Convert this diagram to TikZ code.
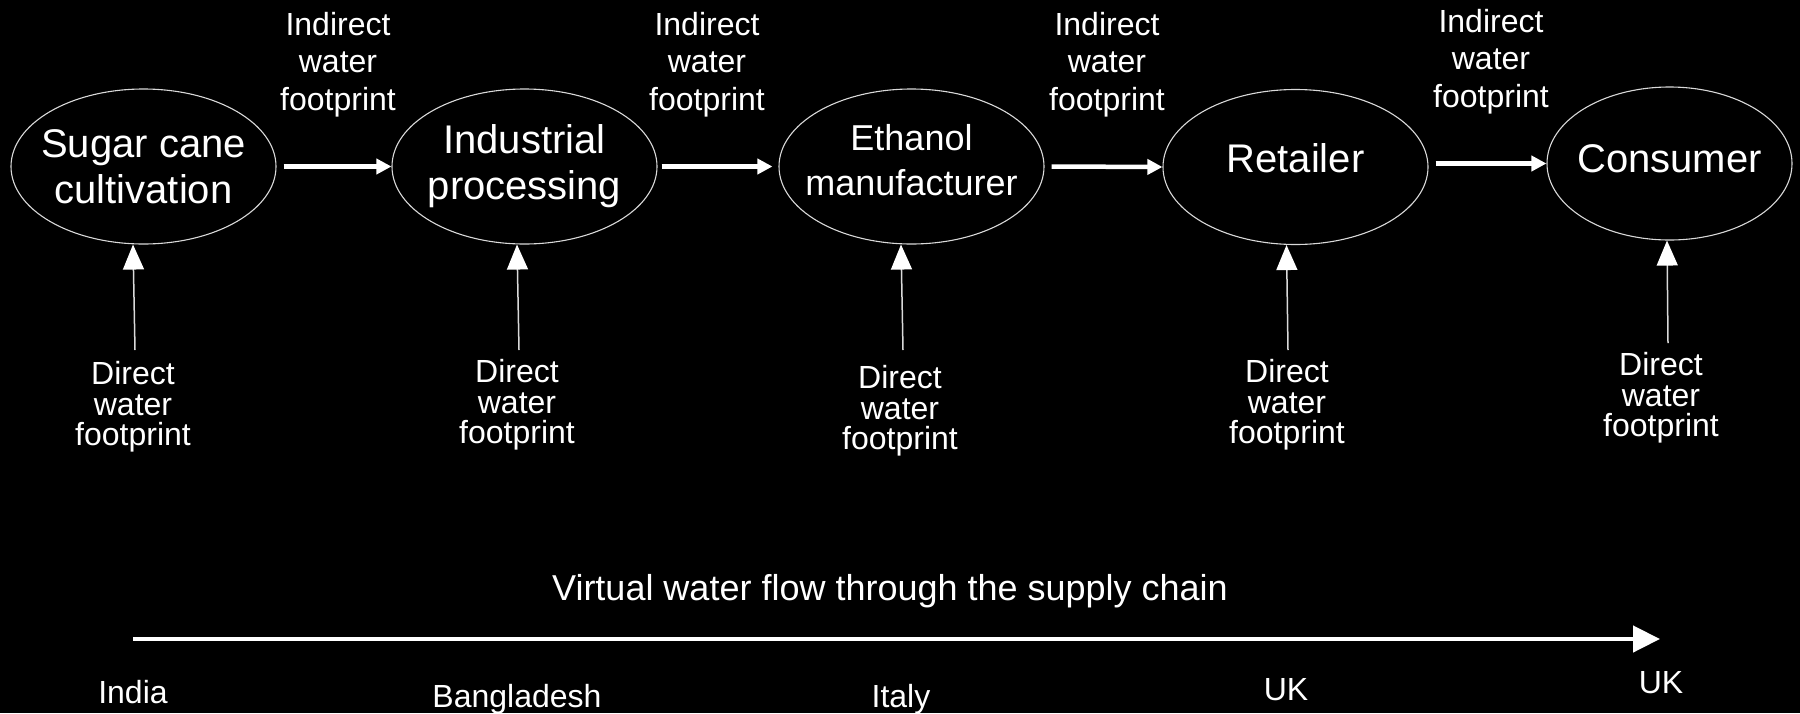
\documentclass[tikz,border=0pt]{standalone}
\usepackage{fontspec}
\setmainfont{Liberation Sans}
\usetikzlibrary{shapes.geometric,arrows.meta}
\begin{document}
\begin{tikzpicture}[x=1pt,y=-1pt,
  blob/.style={ellipse,draw=white!85!black,line width=1.1pt,inner ysep=0pt,inner xsep=-60pt,text=white,align=center,
    font=\fontsize{40}{46}\selectfont,minimum width=265pt,minimum height=155pt},
  lbl/.style={text=white,align=center,inner sep=0pt,font=\fontsize{32}{37.5}\selectfont},
  dlbl/.style={text=white,align=center,inner sep=0pt,font=\fontsize{32}{30.5}\selectfont},
  flow/.style={draw=white,line width=4.5pt,-{Triangle[length=15pt,width=15pt]}},
  feed/.style={draw=white!85!black,line width=1.5pt,-{Triangle[length=25pt,width=21pt,color=white]}},
  chain/.style={draw=white,line width=4.5pt,-{Triangle[length=27pt,width=26pt]}},
  place/.style={text=white,inner sep=0pt,anchor=base,font=\fontsize{32}{38}\selectfont}]
\fill[black] (0,0) rectangle (1800,713);
\useasboundingbox (0,0) rectangle (1800,713);

% supply chain stages
\node[blob] (e1) at (143.5,166.5) {Sugar cane\\cultivation};
\node[blob] (e2) at (524.5,166.5) {Industrial\\processing};
\node[blob,font=\fontsize{36}{45}\selectfont] (e3) at (911.5,166.5) {Ethanol\\manufacturer\rule[-14pt]{0pt}{0pt}};
\node[blob,text height=29pt,text depth=19pt] (e4) at (1295.5,167) {Retailer};
\node[blob,minimum width=245pt,minimum height=153pt,text height=29pt,text depth=12pt] (e5) at (1669.5,163.5) {Consumer};

% indirect flows
\draw[flow] ([xshift=7pt]e1.east) -- (e2.west);
\draw[flow] ([xshift=4pt]e2.east) -- ([xshift=-6pt]e3.west);
\draw[flow] ([xshift=7pt]e3.east) -- (e4.west);
\draw[flow] ([xshift=7pt]e4.east |- e5.west) -- (e5.west);

\node[lbl] (i1) at (338,64.5) {Indirect\\water\\footprint};
\node[lbl] (i2) at (707,64.5) {Indirect\\water\\footprint};
\node[lbl] (i3) at (1107,64.5) {Indirect\\water\\footprint};
\node[lbl] (i4) at (1491,61.5) {Indirect\\water\\footprint};

% direct flows
\coordinate (f1) at (135,350);
\coordinate (f2) at (519,350);
\coordinate (f3) at (903,350);
\coordinate (f4) at (1288,350);
\coordinate (f5) at (1668,343);
\draw[feed] (f1) -- ([xshift=-10.5pt]e1.south);
\draw[feed] (f2) -- ([xshift=-7.5pt]e2.south);
\draw[feed] (f3) -- ([xshift=-10.5pt]e3.south);
\draw[feed] (f4) -- ([xshift=-9pt]e4.south);
\draw[feed] (f5) -- ([xshift=-2.5pt]e5.south);

\node[dlbl] (d1) at (133,407) {Direct\\water\\footprint};
\node[dlbl] (d2) at (517,405) {Direct\\water\\footprint};
\node[dlbl] (d3) at (900,411) {Direct\\water\\footprint};
\node[dlbl] (d4) at (1287,405) {Direct\\water\\footprint};
\node[dlbl] (d5) at (1661,398) {Direct\\water\\footprint};

% virtual water flow
\node[place,font=\fontsize{36}{42}\selectfont] (vw) at (890,600) {Virtual water flow through the supply chain};
\coordinate (cs) at (133,639);
\coordinate (ce) at (1660,639);
\draw[chain] (cs) -- (ce);

\node[place] (c1) at (133,703) {India};
\node[place] (c2) at (517,707) {Bangladesh};
\node[place] (c3) at (901,707) {Italy};
\node[place] (c4) at (1286,700) {UK};
\node[place] (c5) at (1661,693) {UK};
\end{tikzpicture}
\end{document}
